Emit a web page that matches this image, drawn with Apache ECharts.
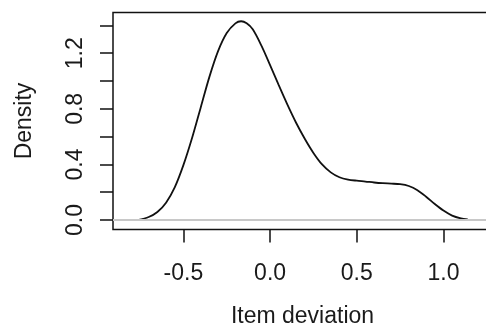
<!DOCTYPE html>
<html>
<head>
<meta charset="utf-8">
<script src="https://cdn.jsdelivr.net/npm/echarts@6/dist/echarts.min.js"></script>
<style>
  html, body { margin: 0; padding: 0; background: #fff; }
  #chart { width: 486px; height: 327px; }
</style>
</head>
<body>
<div id="chart"></div>
<script>
// density curve
const xValues = [-0.764, -0.70, -0.65, -0.60, -0.55, -0.50, -0.45, -0.40, -0.35, -0.30, -0.25, -0.20, -0.167,
  -0.135, -0.10, -0.05, 0.00, 0.05, 0.10, 0.15, 0.20, 0.25, 0.30, 0.35, 0.40, 0.45, 0.50, 0.55, 0.60,
  0.65, 0.70, 0.75, 0.80, 0.85, 0.90, 0.95, 1.00, 1.05, 1.10, 1.14];
const densityValues = [0.000, 0.022, 0.058, 0.125, 0.235, 0.395, 0.590, 0.810, 1.030, 1.215, 1.345, 1.415, 1.430,
  1.415, 1.372, 1.255, 1.115, 0.970, 0.830, 0.700, 0.585, 0.483, 0.400, 0.343, 0.308, 0.291, 0.283, 0.277, 0.270,
  0.265, 0.262, 0.258, 0.245, 0.215, 0.168, 0.115, 0.068, 0.032, 0.012, 0.004];
const xTicks = [-0.5, 0.0, 0.5, 1.0];
const yTicks = [0.0, 0.2, 0.4, 0.6, 0.8, 1.0, 1.2, 1.4];
const yTickLabels = [0.0, 0.4, 0.8, 1.2];

const font = "'Liberation Sans', Arial, sans-serif";
const textColor = '#1a1a1a';

const chart = echarts.init(document.getElementById('chart'));
chart.setOption({
  animation: false,
  textStyle: {fontFamily: font},
  grid: {
    left: 113, top: 12.5, width: 379, height: 217,
    show: true, borderColor: '#111', borderWidth: 1.5,
    outerBoundsMode: 'none'
  },
  xAxis: {
    type: 'value', min: -0.906, max: 1.28,
    name: 'Item deviation', nameLocation: 'middle', nameGap: 76,
    nameTextStyle: {fontSize: 23, color: textColor, fontFamily: font},
    axisLine: {show: false, onZero: false},
    axisTick: {show: true, length: 13, customValues: xTicks, lineStyle: {color: '#111', width: 1.5}},
    axisLabel: {
      customValues: xTicks, fontSize: 23, color: textColor, margin: 33, fontFamily: font,
      formatter: v => v.toFixed(1)
    },
    splitLine: {show: false}
  },
  yAxis: {
    type: 'value', min: -0.068, max: 1.493,
    name: 'Density', nameLocation: 'middle', nameGap: 77,
    nameTextStyle: {fontSize: 23, color: textColor, fontFamily: font},
    axisLine: {show: false, onZero: false},
    axisTick: {show: true, length: 13, customValues: yTicks, lineStyle: {color: '#111', width: 1.5}},
    axisLabel: {
      customValues: yTickLabels, fontSize: 23, color: textColor, margin: 26, rotate: 90, fontFamily: font,
      formatter: v => v.toFixed(1)
    },
    splitLine: {show: false}
  },
  series: [{
    type: 'line',
    data: xValues.map((x, i) => [x, densityValues[i]]),
    showSymbol: false,
    smooth: 0.3,
    lineStyle: {color: '#111', width: 1.8},
    markLine: {
      silent: true, symbol: 'none', label: {show: false},
      lineStyle: {color: '#c8c8c8', width: 2, type: 'solid'},
      data: [{yAxis: 0}]
    },
    z: 3
  }]
});
</script>
</body>
</html>
